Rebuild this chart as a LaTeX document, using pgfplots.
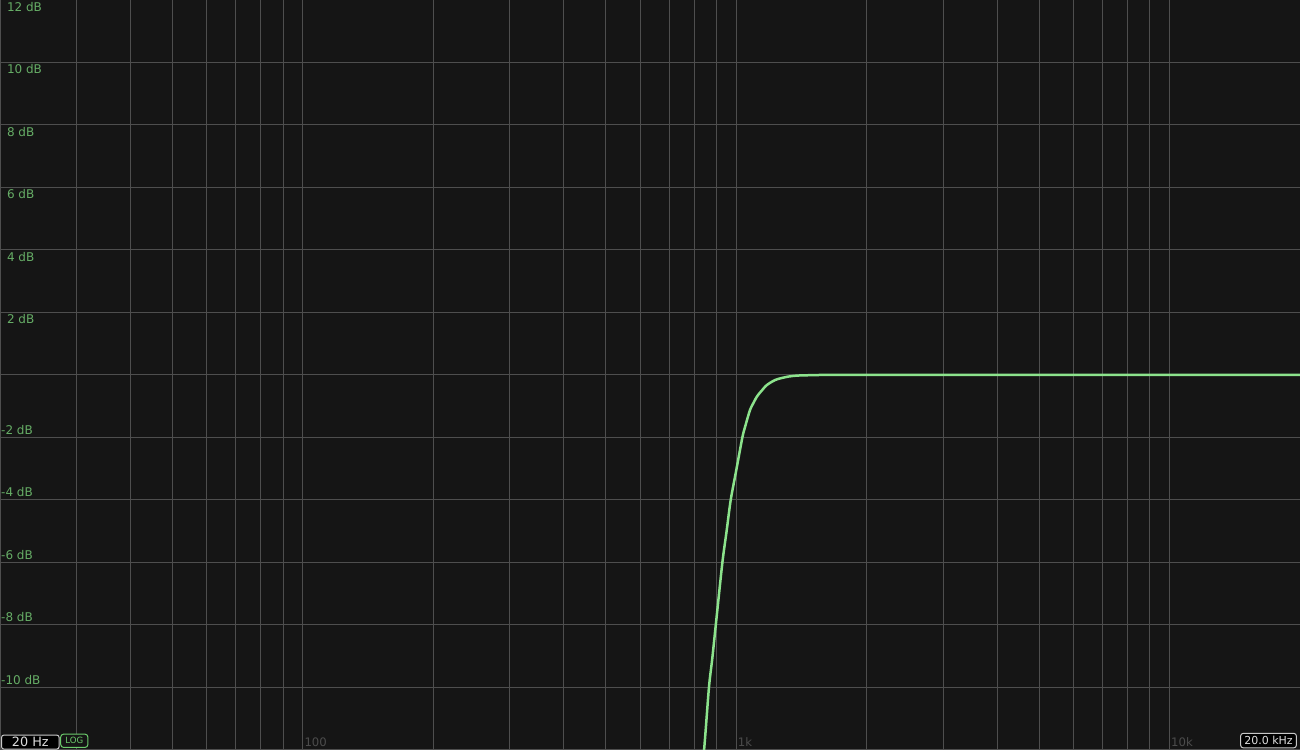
\documentclass[border=0pt]{standalone}
\usepackage{fontspec}
\setmainfont{DejaVu Sans}
\usepackage{pgfplots}
\pgfplotsset{compat=1.18}
\definecolor{bg}{HTML}{151515}
\definecolor{gridc}{HTML}{4E4E4E}
\definecolor{curve}{HTML}{8CE38C}
\definecolor{lab}{HTML}{66AD66}
\definecolor{xlab}{HTML}{4C4C4C}
\definecolor{boxc}{HTML}{C8C8C8}
\definecolor{xtxt}{HTML}{DDDDDD}
\definecolor{logc}{HTML}{6CCB6C}
\begin{document}
\begin{tikzpicture}
\begin{axis}[
  scale only axis, width=650pt, height=375pt,
  xmode=log, xmin=20, xmax=20000, ymin=-12, ymax=12,
  axis background/.style={fill=bg},
  axis line style={gridc, line width=0.5pt},
  xtick={30,40,50,60,70,80,90,100,200,300,400,500,600,700,800,900,1000,2000,3000,4000,5000,6000,7000,8000,9000,10000},
  ytick={-10,-8,-6,-4,-2,0,2,4,6,8,10},
  xticklabels={}, yticklabels={},
  major tick length=0pt, minor tick length=0pt,
  grid=major, major grid style={gridc, line width=0.5pt},
  clip mode=individual,
]
\addplot[curve, line width=1.25pt, smooth, tension=0.45] coordinates {
 (800,-15.6) (843,-12) (865,-10) (880,-9.1) (897,-8) (929,-6) (950,-5) (971,-4)
 (1000,-3.05) (1033,-2) (1050,-1.62) (1076,-1.12) (1100,-0.85) (1115,-0.7) (1135,-0.56)
 (1150,-0.47) (1170,-0.35) (1197,-0.25) (1230,-0.16) (1262,-0.11) (1320,-0.05) (1379,-0.02) (1450,-0.01)
 (1561,0) (2000,0) (5000,0) (10000,0) (20000,0)
};
% y labels
\node[lab, anchor=west, inner sep=0, font=\fontsize{6.0}{7}\selectfont, xshift=3.3pt, yshift=-3.4pt] at (axis cs:20,12) {12 dB};
\node[lab, anchor=west, inner sep=0, font=\fontsize{6.0}{7}\selectfont, xshift=3.3pt, yshift=-3.4pt] at (axis cs:20,10) {10 dB};
\node[lab, anchor=west, inner sep=0, font=\fontsize{6.0}{7}\selectfont, xshift=3.3pt, yshift=-3.4pt] at (axis cs:20,8) {8 dB};
\node[lab, anchor=west, inner sep=0, font=\fontsize{6.0}{7}\selectfont, xshift=3.3pt, yshift=-3.4pt] at (axis cs:20,6) {6 dB};
\node[lab, anchor=west, inner sep=0, font=\fontsize{6.0}{7}\selectfont, xshift=3.3pt, yshift=-3.4pt] at (axis cs:20,4) {4 dB};
\node[lab, anchor=west, inner sep=0, font=\fontsize{6.0}{7}\selectfont, xshift=3.3pt, yshift=-3.4pt] at (axis cs:20,2) {2 dB};
\node[lab, anchor=west, inner sep=0, font=\fontsize{6.0}{7}\selectfont, xshift=0.4pt, yshift=3.75pt] at (axis cs:20,-2) {-2 dB};
\node[lab, anchor=west, inner sep=0, font=\fontsize{6.0}{7}\selectfont, xshift=0.4pt, yshift=3.75pt] at (axis cs:20,-4) {-4 dB};
\node[lab, anchor=west, inner sep=0, font=\fontsize{6.0}{7}\selectfont, xshift=0.4pt, yshift=3.75pt] at (axis cs:20,-6) {-6 dB};
\node[lab, anchor=west, inner sep=0, font=\fontsize{6.0}{7}\selectfont, xshift=0.4pt, yshift=3.75pt] at (axis cs:20,-8) {-8 dB};
\node[lab, anchor=west, inner sep=0, font=\fontsize{6.0}{7}\selectfont, xshift=0.4pt, yshift=3.75pt] at (axis cs:20,-10) {-10 dB};
% x labels
\node[xlab, anchor=base west, inner sep=0, font=\fontsize{5.85}{6}\selectfont, xshift=0.6pt, yshift=1.65pt] at (axis cs:100,-12) {100};
\node[xlab, anchor=base west, inner sep=0, font=\fontsize{5.85}{6}\selectfont, xshift=0.6pt, yshift=1.65pt] at (axis cs:1000,-12) {1k};
\node[xlab, anchor=base west, inner sep=0, font=\fontsize{5.85}{6}\selectfont, xshift=0.6pt, yshift=1.65pt] at (axis cs:10000,-12) {10k};
% range boxes
\node[draw=boxc, fill=black, rounded corners=1.2pt, line width=0.5pt, minimum width=28.8pt, minimum height=7pt, inner sep=0, anchor=south west, text=xtxt, font=\fontsize{6.4}{7}\selectfont, xshift=0.5pt, yshift=0.2pt] at (rel axis cs:0,0) {20 Hz};
\node[draw=logc, fill=bg, rounded corners=1.5pt, line width=0.5pt, minimum width=13.6pt, minimum height=6.7pt, inner sep=0, anchor=south west, text=logc, font=\fontsize{4.3}{5}\selectfont, xshift=30.1pt, yshift=1pt] at (rel axis cs:0,0) {LOG};
\node[draw=boxc, fill=black, rounded corners=1.2pt, line width=0.5pt, minimum width=27.8pt, minimum height=7.2pt, inner sep=0, anchor=south east, text=xtxt, font=\fontsize{5.5}{6}\selectfont, xshift=-1.6pt, yshift=0.85pt] at (rel axis cs:1,0) {20.0 kHz};
\end{axis}
\pgfresetboundingbox
\path (current axis.south west) rectangle (current axis.north east);
\end{tikzpicture}
\end{document}
